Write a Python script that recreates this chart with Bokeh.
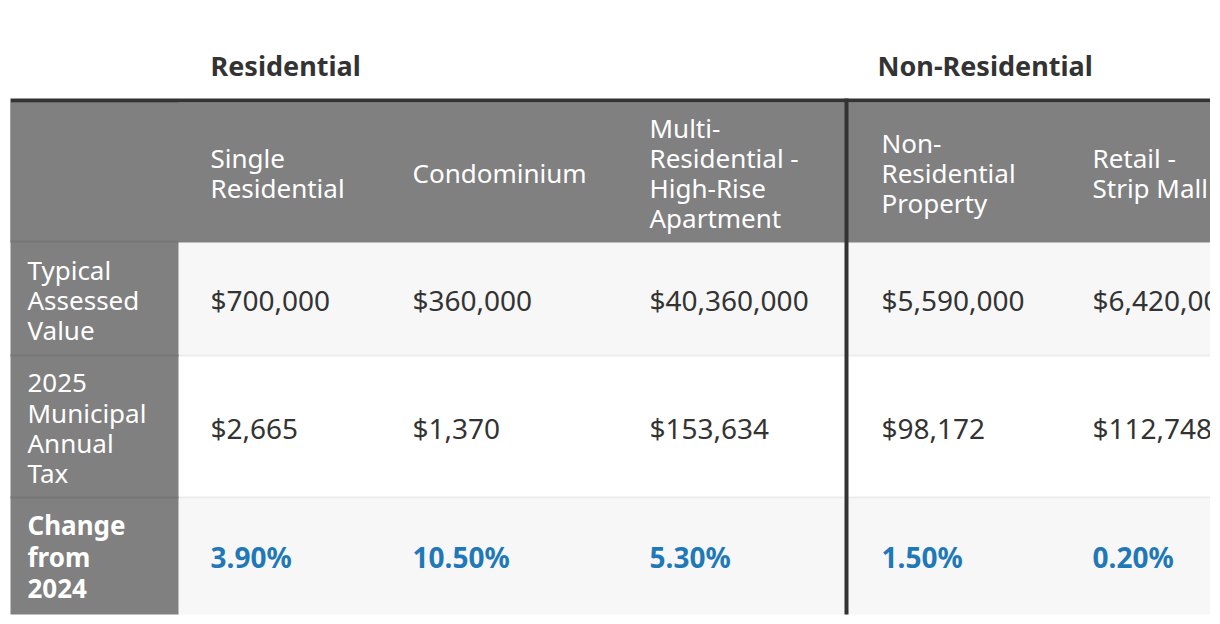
from bokeh.plotting import figure
from bokeh.models import Range1d, ColumnDataSource
from bokeh.core.properties import value
from bokeh.embed import file_html
from bokeh.resources import INLINE

# ---------------- data ----------------
groups = ["Residential", "Non-Residential"]
categories = ["Single\nResidential", "Condominium",
              "Multi-\nResidential -\nHigh-Rise\nApartment",
              "Non-\nResidential\nProperty", "Retail -\nStrip Mall"]
row_labels = ["Typical\nAssessed\nValue", "2025\nMunicipal\nAnnual\nTax", "Change\nfrom\n2024"]
assessed_value = [700000, 360000, 40360000, 5590000, 6420000]
annual_tax = [2665, 1370, 153634, 98172, 112748]
change_pct = [3.90, 10.50, 5.30, 1.50, 0.20]

# ---------------- layout ----------------
FONT = value("Noto Sans")
X0, X1 = 0, 1210
Y0, Y1 = 0, 616
TL, TR = 10, 1210          # table left / right
LABEL_R = 178              # right edge of row-label column
TOP_B, HEAD_B = 98, 102    # top border
HEAD_BOTTOM = 242
ROW_EDGES = [(242, 354), (356, 496), (498, 614)]
SEPS = [354, 496]
DIV_X = 846
col_x = [210, 412, 649, 881, 1092]
label_x = 27
group_x = [210, 877]
head_cy = 172
row_cy = [299, 427, 556]

p = figure(width=X1 - X0, height=Y1 - Y0, x_range=Range1d(X0, X1), y_range=Range1d(Y1, Y0),
           output_backend="svg", toolbar_location=None, min_border=0)
p.axis.visible = False
p.grid.visible = False
p.outline_line_color = None
p.background_fill_color = "white"
p.border_fill_color = "white"

# backgrounds
row_bg = ["#f7f7f7", "#ffffff", "#f7f7f7"]
p.quad(left=[LABEL_R] * 3, right=[TR] * 3, top=[a for a, b in ROW_EDGES], bottom=[b for a, b in ROW_EDGES],
       fill_color=row_bg, line_color=None)
# separators (light)
p.quad(left=[LABEL_R] * 2, right=[TR] * 2, top=SEPS, bottom=[s + 2 for s in SEPS],
       fill_color="#ebebeb", line_color=None)
# header row gray
p.quad(left=[TL], right=[TR], top=[HEAD_B], bottom=[HEAD_BOTTOM], fill_color="#808080", line_color=None)
# label column gray
p.quad(left=[TL], right=[LABEL_R], top=[HEAD_B], bottom=[614], fill_color="#808080", line_color=None)
# label column separators (darker)
p.quad(left=[TL] * 3, right=[LABEL_R] * 3, top=[HEAD_BOTTOM - 2] + SEPS, bottom=[HEAD_BOTTOM] + [s + 2 for s in SEPS],
       fill_color="#777777", line_color=None)
# top border
p.quad(left=[TL], right=[TR], top=[TOP_B], bottom=[HEAD_B], fill_color="#333333", line_color=None)
# vertical divider
p.quad(left=[DIV_X - 2], right=[DIV_X + 2], top=[TOP_B], bottom=[614], fill_color="#333333", line_color=None)

# group headers
p.text(x=group_x, y=[65, 65], text=groups, text_font=FONT, text_font_size="27px",
       text_font_style="bold", text_color="#333333", text_align="left", text_baseline="middle")

def multiline(xs, cys, labels, lh):
    X, Y, T = [], [], []
    for x, cy, lab in zip(xs, cys, labels):
        lines = lab.split("\n")
        n = len(lines)
        for i, ln in enumerate(lines):
            X.append(x)
            Y.append(cy + (i - (n - 1) / 2) * lh)
            T.append(ln)
    return ColumnDataSource(dict(x=X, y=Y, text=T))

# column headers
p.text(x="x", y="y", text="text", source=multiline(col_x, [head_cy] * 5, categories, 30),
       text_font=FONT, text_font_size="26px", text_color="white", text_align="left", text_baseline="middle")
# row labels
p.text(x="x", y="y", text="text", source=multiline([label_x] * 2, row_cy[:2], row_labels[:2], 30),
       text_font=FONT, text_font_size="26px", text_color="white", text_align="left", text_baseline="middle")
p.text(x="x", y="y", text="text", source=multiline([label_x], row_cy[2:], row_labels[2:], 32),
       text_font=FONT, text_font_size="26px", text_font_style="bold", text_color="white",
       text_align="left", text_baseline="middle")

# values
vals = ["${:,}".format(v) for v in assessed_value] + ["${:,}".format(v) for v in annual_tax]
p.text(x=col_x * 2, y=[row_cy[0]] * 5 + [row_cy[1]] * 5, text=vals, text_font=FONT, text_font_size="28px",
       text_color="#333333", text_align="left", text_baseline="middle")
pcts = ["{:.2f}%".format(v) for v in change_pct]
p.text(x=col_x, y=[row_cy[2]] * 5, text=pcts, text_font=FONT, text_font_size="28px", text_font_style="bold",
       text_color="#1f78b8", text_align="left", text_baseline="middle")

open("out.html", "w").write(file_html(p, INLINE))
